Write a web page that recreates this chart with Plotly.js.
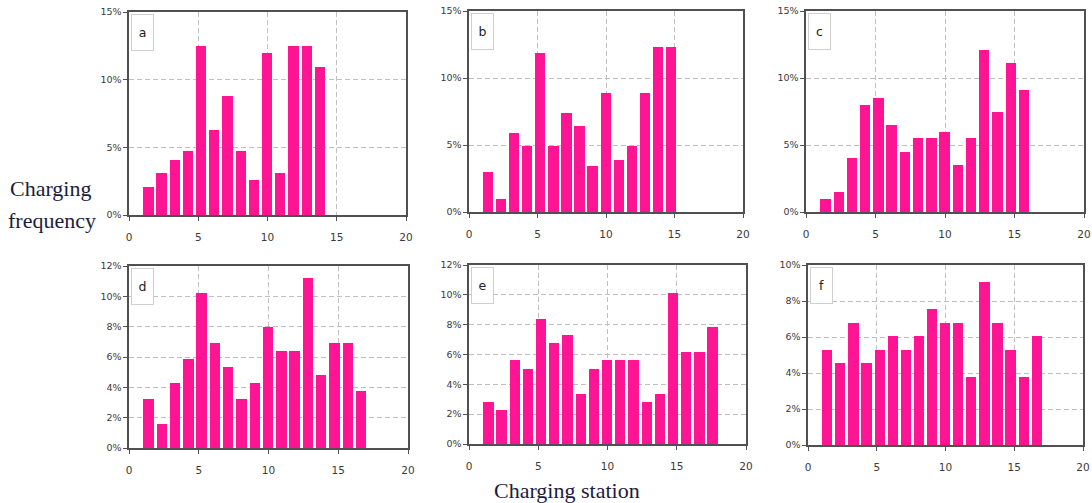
<!DOCTYPE html>
<html>
<head>
<meta charset="utf-8">
<script src="https://cdn.plot.ly/plotly-3.0.1.min.js"></script>
<style>html,body{margin:0;padding:0;background:#fff;}#chart{width:1092px;height:503px;}</style>
</head>
<body>
<div id="chart"></div>
<script>
// ---- data ----
const stations = [1,2,3,4,5,6,7,8,9,10,11,12,13,14,15,16,17,18];
const panelLabels = ['a','b','c','d','e','f'];
const valuesA = [2.1, 3.1, 4.1, 4.7, 12.5, 6.25, 8.8, 4.7, 2.6, 12.0, 3.1, 12.5, 12.5, 10.9];
const valuesB = [3.0, 1.0, 5.9, 4.9, 11.9, 4.9, 7.4, 6.4, 3.4, 8.9, 3.9, 4.9, 8.9, 12.3, 12.3];
const valuesC = [1.0, 1.5, 4.0, 8.0, 8.5, 6.5, 4.5, 5.5, 5.5, 6.0, 3.5, 5.5, 12.1, 7.5, 11.1, 9.1];
const valuesD = [3.2, 1.6, 4.3, 5.9, 10.2, 6.95, 5.35, 3.2, 4.3, 8.0, 6.4, 6.4, 11.2, 4.8, 6.95, 6.95, 3.75];
const valuesE = [2.8, 2.25, 5.6, 5.05, 8.4, 6.75, 7.3, 3.35, 5.05, 5.6, 5.6, 5.6, 2.8, 3.35, 10.1, 6.15, 6.15, 7.85];
const valuesF = [5.3, 4.55, 6.8, 4.55, 5.3, 6.05, 5.3, 6.05, 7.55, 6.8, 6.8, 3.8, 9.05, 6.8, 5.3, 3.8, 6.05];
const yMaxes = [15, 15, 15, 12, 12, 10];
const yDticks = [5, 5, 5, 2, 2, 2];
const xTickVals = [0, 5, 10, 15, 20];
const yTitleLines = ['Charging', 'frequency'];
const xTitle = 'Charging station';

const allValues = [valuesA, valuesB, valuesC, valuesD, valuesE, valuesF];

// ---- layout geometry (pixels) ----
const W = 1092, H = 503;
const boxes = [
  {l:129, r:406, t:12, b:215},
  {l:469, r:743, t:11, b:212},
  {l:806, r:1084, t:11, b:212},
  {l:129, r:408, t:266, b:448},
  {l:469, r:746, t:265, b:444},
  {l:808, r:1083, t:265, b:445}
];

const BAR = '#FF1493';
const AX = '#505050';
const GRID = '#c0c0c0';
const GRIDDASH = '5px,3px';
const yTickFont = {family: 'DejaVu Sans', size: 9.5, color: '#3a3a3a'};
const xTickFont = {family: 'DejaVu Sans', size: 10.5, color: '#3a3a3a'};

const traces = [];
const layout = {
  width: W, height: H,
  margin: {l:0, r:0, t:0, b:0},
  paper_bgcolor: '#fff', plot_bgcolor: '#fff',
  showlegend: false,
  annotations: [],
  bargap: 0
};

boxes.forEach((bx, i) => {
  const n = i + 1;
  const xs = n === 1 ? '' : String(n);
  const hx = String(n + 6);
  const xd = [bx.l / W, bx.r / W];
  const yd = [1 - bx.b / H, 1 - bx.t / H];
  layout['xaxis' + xs] = {
    domain: xd, anchor: 'y' + xs, range: [0, 20],
    tickvals: xTickVals, showgrid: true, gridcolor: GRID, griddash: GRIDDASH, gridwidth: 1,
    showline: true, linecolor: AX, linewidth: 1.6, mirror: true,
    ticks: 'outside', ticklen: 4, tickcolor: AX, tickfont: xTickFont,
    ticklabelstandoff: 8, zeroline: false, fixedrange: true
  };
  layout['yaxis' + xs] = {
    domain: yd, anchor: 'x' + xs, range: [0, yMaxes[i]], dtick: yDticks[i], tick0: 0,
    ticksuffix: '%', showgrid: true, gridcolor: GRID, griddash: GRIDDASH, gridwidth: 1,
    showline: true, linecolor: AX, linewidth: 1.6, mirror: true,
    ticks: 'outside', ticklen: 4, tickcolor: AX, tickfont: yTickFont,
    zeroline: false, fixedrange: true
  };
  layout['xaxis' + hx] = {
    domain: xd, overlaying: 'x' + xs, anchor: 'y' + xs, range: [-0.47, 20.53],
    visible: false, showgrid: false, zeroline: false, fixedrange: true
  };
  // empty trace so the base subplot exists
  traces.push({
    type: 'scatter', mode: 'markers', x: [], y: [],
    xaxis: 'x' + xs, yaxis: 'y' + xs, hoverinfo: 'skip'
  });
  const vals = allValues[i];
  traces.push({
    type: 'bar',
    x: stations.slice(0, vals.length),
    y: vals,
    xaxis: 'x' + hx, yaxis: 'y' + xs,
    width: 0.78,
    marker: {color: BAR, line: {width: 0}},
    hoverinfo: 'skip'
  });
  layout.annotations.push({
    xref: 'paper', yref: 'paper',
    x: (bx.l + 1.5) / W, y: 1 - (bx.t + 2) / H,
    xanchor: 'left', yanchor: 'top',
    text: panelLabels[i], showarrow: false,
    width: 21, height: 35, align: 'center', valign: 'middle',
    bgcolor: '#fff', bordercolor: '#cfcfcf', borderwidth: 1, borderpad: 0,
    font: {family: 'DejaVu Sans', size: 12.5, color: '#222'}
  });
});

const titleFont = {family: 'Liberation Serif', size: 22, color: '#1c1c3c'};
layout.annotations.push({
  xref: 'paper', yref: 'paper', x: 50 / W, y: 1 - 188 / H,
  xanchor: 'center', yanchor: 'middle', showarrow: false,
  text: yTitleLines[0], font: titleFont
});
layout.annotations.push({
  xref: 'paper', yref: 'paper', x: 52 / W, y: 1 - 220 / H,
  xanchor: 'center', yanchor: 'middle', showarrow: false,
  text: yTitleLines[1], font: titleFont
});
layout.annotations.push({
  xref: 'paper', yref: 'paper', x: 567 / W, y: 1 - 490 / H,
  xanchor: 'center', yanchor: 'middle', showarrow: false,
  text: xTitle, font: titleFont
});

Plotly.newPlot('chart', traces, layout, {staticPlot: true, displayModeBar: false});
</script>
</body>
</html>
